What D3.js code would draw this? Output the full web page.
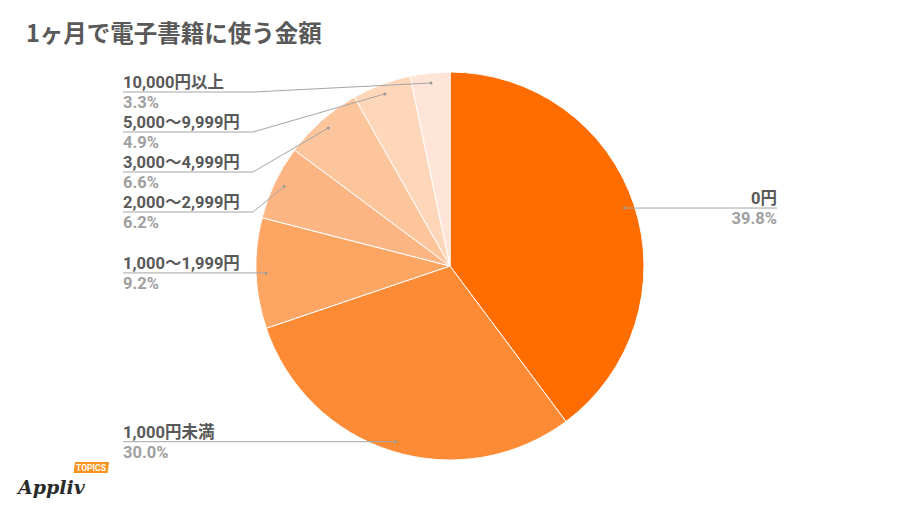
<!DOCTYPE html>
<html><head><meta charset="utf-8">
<script src="https://cdn.jsdelivr.net/npm/d3@7/dist/d3.min.js"></script>
<style>
body{margin:0;background:#fff;}
svg{display:block;}
</style></head>
<body>
<script>
const title = "1ヶ月で電子書籍に使う金額";
const categories = ["0円","1,000円未満","1,000〜1,999円","2,000〜2,999円","3,000〜4,999円","5,000〜9,999円","10,000円以上"];
const values = [39.8, 30.0, 9.2, 6.2, 6.6, 4.9, 3.3];
const colors = ["#ff6d00","#fd8a34","#fda663","#fdb683","#fdc59c","#fed6b9","#fee5d7"];

const W = 900, H = 506;
const cx = 450, cy = 266, R = 194, anchorR = 184;
const FONT = "Roboto,'Noto Sans CJK JP',sans-serif";

const svg = d3.select("body").append("svg").attr("width", W).attr("height", H);

svg.append("text").attr("x", 26).attr("y", 42)
  .style("font-family", "'Noto Sans CJK JP',sans-serif")
  .attr("font-size", 23.5).attr("font-weight", "bold").attr("fill", "#595959")
  .text(title);

const data = categories.map((c, i) => ({cat: c, val: values[i], color: colors[i]}));
const pie = d3.pie().value(d => d.val).sort(null);
const arcs = pie(data);
const arc = d3.arc().innerRadius(0).outerRadius(R);
const anchorArc = d3.arc().innerRadius(anchorR).outerRadius(anchorR);

const g = svg.append("g").attr("transform", `translate(${cx},${cy})`);
g.selectAll("path.slice").data(arcs).join("path")
  .attr("class", "slice")
  .attr("d", arc)
  .attr("fill", d => d.data.color)
  .attr("stroke", "#ffffff").attr("stroke-width", 1);

// Labels
const fmt = d3.format(".1f");
const leftX = 123, elbowX = 253, rightEnd = 777;
const labels = arcs.map(a => {
  const [x, y] = anchorArc.centroid(a);
  return {a, ax: cx + x, ay: cy + y, side: x >= 0 ? "right" : "left"};
});
const left = labels.filter(l => l.side === "left").sort((p, q) => p.ay - q.ay);
let prev = -Infinity;
left.forEach(l => { l.ly = Math.max(l.ay, prev + 40, 92); prev = l.ly; });
labels.filter(l => l.side === "right").forEach(l => { l.ly = l.ay; });

const lg = svg.append("g");
labels.forEach(l => {
  let pts;
  if (l.side === "left") {
    pts = Math.abs(l.ly - l.ay) < 0.5 ? [[leftX, l.ly], [l.ax, l.ay]] : [[leftX, l.ly], [elbowX, l.ly], [l.ax, l.ay]];
  } else {
    pts = [[l.ax, l.ay], [rightEnd, l.ly]];
  }
  lg.append("path").attr("d", d3.line()(pts))
    .attr("fill", "none").attr("stroke", "#a6a6a6").attr("stroke-width", 1);
  lg.append("circle").attr("cx", l.ax).attr("cy", l.ay).attr("r", 1.5).attr("fill", "#999");
  const tx = l.side === "left" ? leftX : rightEnd;
  const anchor = l.side === "left" ? "start" : "end";
  lg.append("text").attr("x", tx).attr("y", l.ly - 4)
    .style("font-family", FONT)
    .attr("text-anchor", anchor).attr("font-size", 16.5).attr("font-weight", "bold").attr("fill", "#595959")
    .text(l.a.data.cat);
  lg.append("text").attr("x", tx).attr("y", l.ly + 16)
    .style("font-family", FONT)
    .attr("text-anchor", anchor).attr("font-size", 16.5).attr("font-weight", "bold").attr("fill", "#a0a0a0")
    .text(fmt(l.a.data.val) + "%");
});

// Logo
const logo = svg.append("g");
logo.append("text").attr("x", 18).attr("y", 494)
  .style("font-family", "'DejaVu Serif',serif").style("font-style", "italic")
  .attr("font-weight", "bold")
  .attr("font-size", 19).attr("fill", "#2b2b2b").text("Appliv");
logo.append("rect").attr("x", 140).attr("y", 462).attr("width", 34).attr("height", 11)
  .attr("fill", "#f7931e").attr("transform", "skewX(-8)");
logo.append("text").attr("x", 91).attr("y", 470.5).attr("text-anchor", "middle")
  .style("font-family", FONT)
  .attr("font-size", 8.5).attr("font-weight", "bold").attr("fill", "#fff").text("TOPICS");
</script>
</body></html>
